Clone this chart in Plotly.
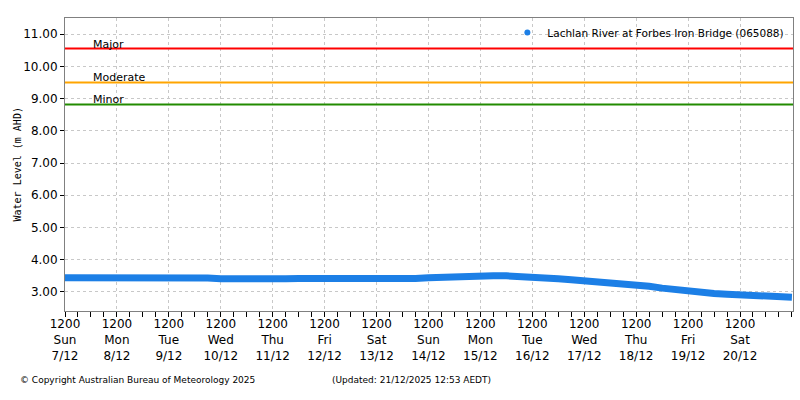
import plotly.graph_objects as go
import pandas as pd

# Data (6-hourly readings)
start_time = "2025-12-07 12:00"
levels = [3.44, 3.44, 3.44, 3.44, 3.44, 3.45, 3.46, 3.48, 3.48, 3.47,
          3.45, 3.43, 3.41, 3.40, 3.39, 3.39, 3.39, 3.41, 3.42, 3.42,
          3.42, 3.41, 3.39, 3.38, 3.37, 3.39, 3.40, 3.42, 3.44, 3.46,
          3.48, 3.49, 3.50, 3.50, 3.50, 3.49, 3.48, 3.45, 3.41, 3.38,
          3.35, 3.32, 3.30, 3.27, 3.23, 3.18, 3.12, 3.07, 3.03, 2.98,
          2.95, 2.93, 2.92, 2.90, 2.88, 2.86, 2.84]
times = pd.date_range(start_time, periods=len(levels), freq="6h")

flood_names = ["Major", "Moderate", "Minor"]
flood_levels = [10.55, 9.50, 8.82]
flood_colors = ["#ff0000", "#ffa500", "#228b00"]

tick_days = ["Sun", "Mon", "Tue", "Wed", "Thu", "Fri", "Sat",
             "Sun", "Mon", "Tue", "Wed", "Thu", "Fri", "Sat"]
tick_dates = ["7/12", "8/12", "9/12", "10/12", "11/12", "12/12", "13/12",
              "14/12", "15/12", "16/12", "17/12", "18/12", "19/12", "20/12"]
tick_vals = pd.date_range("2025-12-07 12:00", periods=len(tick_days), freq="D")
tick_text = [f"1200<br>{d}<br>{t}" for d, t in zip(tick_days, tick_dates)]

y_ticks = [3, 4, 5, 6, 7, 8, 9, 10, 11]
series_name = "Lachlan River at Forbes Iron Bridge (065088)"

FONT = "DejaVu Sans"

fig = go.Figure()

x0 = pd.Timestamp("2025-12-07 12:00")
x1 = pd.Timestamp("2025-12-21 12:30")

for name, lvl, col in zip(flood_names, flood_levels, flood_colors):
    fig.add_trace(go.Scatter(x=[x0, x1], y=[lvl, lvl], mode="lines",
                             line=dict(color=col, width=2), showlegend=False,
                             hoverinfo="skip"))
    fig.add_annotation(x=x0 + pd.Timedelta(hours=12), y=lvl, text=name,
                       showarrow=False, xanchor="left", yanchor="bottom",
                       yshift=-4, font=dict(family=FONT, size=11, color="#000"))

fig.add_trace(go.Scatter(x=times, y=levels, mode="lines",
                         line=dict(color="#1c7fe6", width=7), showlegend=False))
fig.add_trace(go.Scatter(x=[None], y=[None], mode="markers",
                         marker=dict(color="#1c7fe6", size=6),
                         name=series_name, showlegend=True))

fig.update_layout(
    width=800, height=400,
    margin=dict(l=65, r=7, t=18, b=89, autoexpand=False),
    paper_bgcolor="white", plot_bgcolor="white",
    font=dict(family=FONT, size=12, color="#000"),
    legend=dict(x=0.995, y=1, xanchor="right", yanchor="top",
                bgcolor="rgba(0,0,0,0)", font=dict(size=10.5),
                itemwidth=30),
    showlegend=True,
)

fig.update_xaxes(
    range=[x0, x1], tickmode="array", tickvals=tick_vals, ticktext=tick_text,
    showgrid=True, gridcolor="#c8c8c8", griddash="3px,3px",
    showline=True, linecolor="#808080", linewidth=1, mirror=True,
    ticks="outside", ticklen=5, tickcolor="#000",
    minor=dict(dtick=6 * 3600 * 1000, ticks="outside", ticklen=5,
               tickcolor="#000", showgrid=False),
    tickfont=dict(size=12), tickangle=0, zeroline=False, automargin=False,
    ticklabelstandoff=-3,
)
fig.update_yaxes(
    range=[2.41, 11.5], tickvals=y_ticks, tickformat=".2f",
    showgrid=True, gridcolor="#c8c8c8", griddash="3px,3px",
    showline=True, linecolor="#808080", linewidth=1, mirror=True,
    ticks="outside", ticklen=4, tickcolor="#000",
    tickfont=dict(size=12), zeroline=False, automargin=False,
)

fig.add_annotation(xref="paper", yref="paper", x=-0.0646, y=0.5,
                   xanchor="center", yanchor="middle", showarrow=False,
                   textangle=-90, text="Water Level (m AHD)",
                   font=dict(family="DejaVu Sans Mono", size=10))
fig.add_annotation(xref="paper", yref="paper", x=-0.0645, y=-0.2355,
                   xanchor="left", yanchor="middle", showarrow=False,
                   text="© Copyright Australian Bureau of Meteorology 2025",
                   font=dict(family=FONT, size=9))
fig.add_annotation(xref="paper", yref="paper", x=0.364, y=-0.2355,
                   xanchor="left", yanchor="middle", showarrow=False,
                   text="(Updated: 21/12/2025 12:53 AEDT)",
                   font=dict(family=FONT, size=9))

fig.write_html("out.html", config={"displayModeBar": False},
               post_script="document.body.style.margin='0px';")
